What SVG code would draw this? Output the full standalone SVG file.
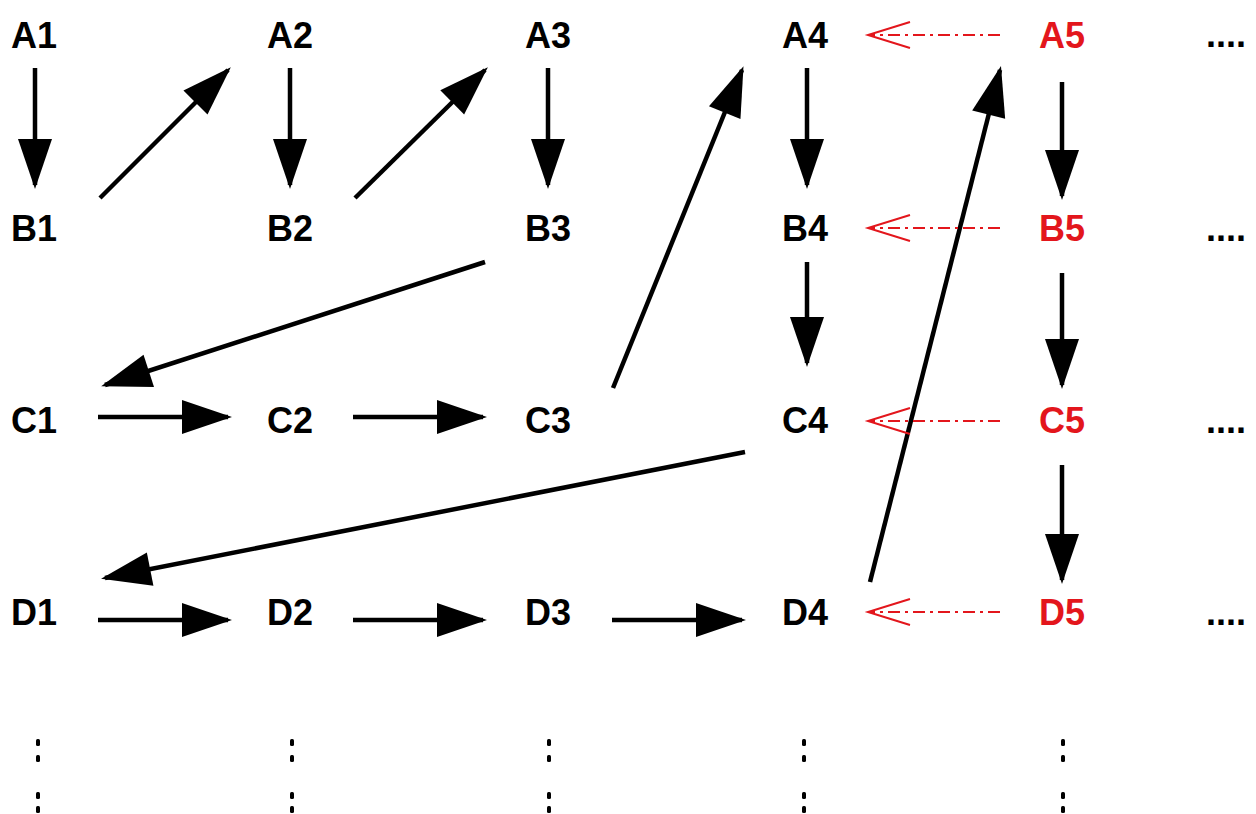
<svg xmlns="http://www.w3.org/2000/svg" width="1256" height="814" viewBox="0 0 1256 814">
<defs>
<style>
.t{font-family:"Liberation Sans",Arial,sans-serif;font-weight:bold;font-size:36px;text-anchor:middle;fill:#000}
.r{fill:#e3161c}
.c{stroke:#000;stroke-width:4.5;fill:none;marker-end:url(#ah)}
.d{stroke:#e3161c;stroke-width:2;fill:none;stroke-dasharray:12 5 3 5;marker-end:url(#oh)}
.dot{fill:#000}
</style>
<marker id="ah" markerUnits="userSpaceOnUse" markerWidth="52" markerHeight="36" refX="46" refY="17" orient="auto" overflow="visible">
<path d="M0,0 L50,17 L0,34 Z" fill="#000"/>
</marker>
<marker id="oh" markerUnits="userSpaceOnUse" markerWidth="46" markerHeight="30" refX="42" refY="13" orient="auto" overflow="visible">
<path d="M0,0 L42,13 L0,26" fill="none" stroke="#e3161c" stroke-width="2"/>
</marker>
</defs>
<g id="connectors">
<line class="c" x1="35" y1="68" x2="35" y2="185"/>
<line class="c" x1="100" y1="198" x2="228" y2="70"/>
<line class="c" x1="290" y1="68" x2="290" y2="185"/>
<line class="c" x1="355" y1="198" x2="485" y2="70"/>
<line class="c" x1="548" y1="68" x2="548" y2="185"/>
<line class="c" x1="485" y1="262" x2="105" y2="385"/>
<line class="c" x1="613" y1="388" x2="742" y2="70"/>
<line class="c" x1="807" y1="68" x2="807" y2="185"/>
<line class="c" x1="807" y1="262" x2="807" y2="363"/>
<line class="c" x1="870" y1="582" x2="1000" y2="70"/>
<line class="c" x1="1062" y1="82" x2="1062" y2="196"/>
<line class="c" x1="1062" y1="273" x2="1062" y2="385"/>
<line class="c" x1="1062" y1="465" x2="1062" y2="580"/>
<line class="c" x1="98" y1="417" x2="228" y2="417"/>
<line class="c" x1="353" y1="417" x2="483" y2="417"/>
<line class="c" x1="745" y1="452" x2="105" y2="578"/>
<line class="c" x1="98" y1="620" x2="228" y2="620"/>
<line class="c" x1="353" y1="620" x2="483" y2="620"/>
<line class="c" x1="612" y1="620" x2="742" y2="620"/>
<line class="d" x1="1000" y1="35" x2="868" y2="35"/>
<line class="d" x1="1000" y1="228" x2="868" y2="228"/>
<line class="d" x1="1000" y1="421" x2="868" y2="421"/>
<line class="d" x1="1000" y1="612" x2="868" y2="612"/>
</g>
<g id="A1"><text class="t" x="34" y="48">A1</text></g>
<g id="A2"><text class="t" x="290" y="48">A2</text></g>
<g id="A3"><text class="t" x="548" y="48">A3</text></g>
<g id="A4"><text class="t" x="805" y="48">A4</text></g>
<g id="A5"><text class="t r" x="1062" y="48">A5</text></g>
<g id="B1"><text class="t" x="34" y="241">B1</text></g>
<g id="B2"><text class="t" x="290" y="241">B2</text></g>
<g id="B3"><text class="t" x="548" y="241">B3</text></g>
<g id="B4"><text class="t" x="805" y="241">B4</text></g>
<g id="B5"><text class="t r" x="1062" y="241">B5</text></g>
<g id="C1"><text class="t" x="34" y="433">C1</text></g>
<g id="C2"><text class="t" x="290" y="433">C2</text></g>
<g id="C3"><text class="t" x="548" y="433">C3</text></g>
<g id="C4"><text class="t" x="805" y="433">C4</text></g>
<g id="C5"><text class="t r" x="1062" y="433">C5</text></g>
<g id="D1"><text class="t" x="34" y="625">D1</text></g>
<g id="D2"><text class="t" x="290" y="625">D2</text></g>
<g id="D3"><text class="t" x="548" y="625">D3</text></g>
<g id="D4"><text class="t" x="805" y="625">D4</text></g>
<g id="D5"><text class="t r" x="1062" y="625">D5</text></g>
<g id="ellipses">
<text class="t" x="1226" y="47">....</text>
<text class="t" x="1226" y="241">....</text>
<text class="t" x="1226" y="433">....</text>
<text class="t" x="1226" y="625">....</text>
</g>
<g id="vdots">
<g class="dot">
<rect x="36" y="739" width="4" height="7" rx="1.5"/><rect x="36" y="755" width="4" height="7" rx="1.5"/>
<rect x="36" y="792" width="4" height="7" rx="1.5"/><rect x="36" y="806" width="4" height="7" rx="1.5"/>
<rect x="290" y="739" width="4" height="7" rx="1.5"/><rect x="290" y="755" width="4" height="7" rx="1.5"/>
<rect x="290" y="792" width="4" height="7" rx="1.5"/><rect x="290" y="806" width="4" height="7" rx="1.5"/>
<rect x="547" y="739" width="4" height="7" rx="1.5"/><rect x="547" y="755" width="4" height="7" rx="1.5"/>
<rect x="547" y="792" width="4" height="7" rx="1.5"/><rect x="547" y="806" width="4" height="7" rx="1.5"/>
<rect x="802" y="739" width="4" height="7" rx="1.5"/><rect x="802" y="755" width="4" height="7" rx="1.5"/>
<rect x="802" y="792" width="4" height="7" rx="1.5"/><rect x="802" y="806" width="4" height="7" rx="1.5"/>
<rect x="1061" y="739" width="4" height="7" rx="1.5"/><rect x="1061" y="755" width="4" height="7" rx="1.5"/>
<rect x="1061" y="792" width="4" height="7" rx="1.5"/><rect x="1061" y="806" width="4" height="7" rx="1.5"/>
</g>
</g>
</svg>
